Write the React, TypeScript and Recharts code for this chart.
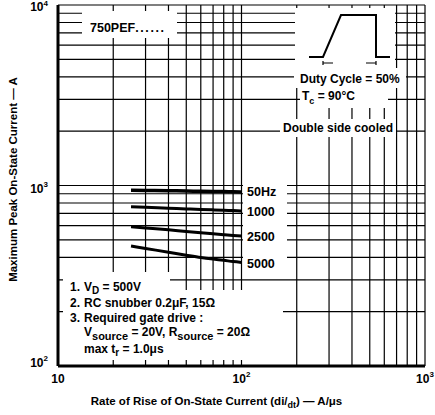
import React from 'react';
import { LineChart, Line, XAxis, YAxis, CartesianGrid } from 'recharts';

// ---- data ----
const rateX = [25, 30, 40, 50, 60, 70, 80, 90, 100]; // di/dt, A/us
const current50Hz = [940, 938, 935, 932, 929, 927, 925, 922, 920];
const current1000Hz = [763, 757, 749, 742, 737, 733, 729, 726, 723];
const current2500Hz = [591, 582, 568, 556, 547, 540, 534, 529, 525];
const current5000Hz = [462, 448, 427, 411, 399, 391, 385, 379, 375];

const xGridTicks = [10, 20, 30, 40, 50, 60, 70, 80, 90, 100, 200, 300, 400, 500, 600, 700, 800, 900, 1000];
const yGridTicks = [100, 200, 300, 400, 500, 600, 700, 800, 900, 1000, 2000, 3000, 4000, 5000, 6000, 7000, 8000, 9000, 10000];
const curveLabels = ['50Hz', '1000', '2500', '5000'];

const data = rateX.map((x, i) => ({
  x,
  f50: current50Hz[i],
  f1000: current1000Hz[i],
  f2500: current2500Hz[i],
  f5000: current5000Hz[i],
}));

const FONT = '"Liberation Sans", Arial, Helvetica, sans-serif';

const isDecade = (v: number) => Math.abs(Math.log10(v) - Math.round(Math.log10(v))) < 1e-9;

const XTick = (props: any) => {
  const { x, y, payload } = props;
  const v = payload.value;
  if (!isDecade(v)) return <g />;
  const exp = Math.round(Math.log10(v));
  return (
    <text x={x} y={y + 17} textAnchor="middle" fontFamily={FONT} fontWeight={700} fontSize={12} fill="#000">
      {exp === 1 ? (
        '10'
      ) : (
        <>
          <tspan>10</tspan>
          <tspan dy={-6} fontSize={8}>{exp}</tspan>
        </>
      )}
    </text>
  );
};

const YTick = (props: any) => {
  const { x, y, payload } = props;
  const v = payload.value;
  if (!isDecade(v)) return <g />;
  const exp = Math.round(Math.log10(v));
  const dy = exp === 3 ? 7 : exp === 4 ? 6 : 1;
  const sup = exp === 4 ? -5 : -6;
  return (
    <text x={x} y={y + dy} textAnchor="end" fontFamily={FONT} fontWeight={700} fontSize={12} fill="#000">
      <tspan>10</tspan>
      <tspan dy={sup} fontSize={8}>{exp}</tspan>
    </text>
  );
};

const XTitle = (props: any) => {
  const vb = props.viewBox || { x: 58, y: 366, width: 367, height: 49 };
  const cx = vb.x + vb.width / 2 - 25;
  const cy = vb.y + 39;
  return (
    <text x={cx} y={cy} textAnchor="middle" fontFamily={FONT} fontWeight={700} fontSize={11.5} fill="#000">
      <tspan>Rate of Rise of On-State Current (di/</tspan>
      <tspan dy={3} fontSize={9}>dt</tspan>
      <tspan dy={-3}>) — A/μs</tspan>
    </text>
  );
};

const YTitle = (props: any) => {
  const vb = props.viewBox || { x: 8, y: 5, width: 50, height: 361 };
  const cx = vb.x + 4.5;
  const cy = vb.y + vb.height / 2 - 6;
  return (
    <text
      x={cx}
      y={cy}
      transform={`rotate(-90, ${cx}, ${cy})`}
      textAnchor="middle"
      dominantBaseline="central"
      fontFamily={FONT}
      fontWeight={700}
      fontSize={11.5}
      fill="#000"
    >
      Maximum Peak On-State Current — A
    </text>
  );
};

const whiteBoxes = [
  [82, 11, 95, 27],
  [295, 8, 100, 60],
  [294, 68, 112, 20],
  [300, 88, 88, 20],
  [280, 119, 116, 18],
  [243, 181, 44, 91],
  [63, 272, 107, 20],
  [63, 290, 182, 18],
  [63, 308, 220, 52],
];

const txt = { fontFamily: FONT, fontWeight: 700, fontSize: 12, fill: '#000' } as any;

const Overlay = () => (
  <svg width={435} height={415} style={{ position: 'absolute', left: 0, top: 0, pointerEvents: 'none' }}>
    {whiteBoxes.map(([x, y, w, h], i) => (
      <rect key={i} x={x} y={y} width={w} height={h} fill="#fff" />
    ))}
    <text x={90} y={31.5} {...txt} fontSize={12.5}>
      750PEF<tspan letterSpacing={1.6}>......</tspan>
    </text>
    {/* pulse waveform inset */}
    <polyline points="309,57 323,57 341,15 376,15 376,57 390,57" fill="none" stroke="#000" strokeWidth={2} />
    <path d="M323,61 v4 M323,63 h10 M376,61 v4 M366,63 h10" stroke="#000" strokeWidth={1.2} fill="none" />
    <text x={300} y={82.5} {...txt}>Duty Cycle = 50%</text>
    <text x={302} y={100} {...txt}>
      T<tspan dy={4} fontSize={9}>c</tspan>
      <tspan dy={-4}> = 90°C</tspan>
    </text>
    <text x={283} y={131.5} {...txt}>Double side cooled</text>
    {curveLabels.map((l, i) => (
      <text key={l} x={247} y={[195.5, 215.5, 240.5, 268][i]} {...txt} fontSize={12.5}>
        {l}
      </text>
    ))}
    <text x={70} y={291} {...txt}>
      1.
    </text>
    <text x={84} y={291} {...txt}>
      V<tspan dy={3} fontSize={10}>D</tspan>
      <tspan dy={-3}> = 500V</tspan>
    </text>
    <text x={70} y={307} {...txt}>2.</text>
    <text x={84} y={307} {...txt}>RC snubber 0.2μF, 15Ω</text>
    <text x={70} y={322} {...txt}>3.</text>
    <text x={84} y={322} {...txt}>Required gate drive :</text>
    <text x={84} y={335.5} {...txt}>
      V<tspan dy={4} fontSize={11}>source</tspan>
      <tspan dy={-4}> = 20V, R</tspan>
      <tspan dy={4} fontSize={11}>source</tspan>
      <tspan dy={-4}> = 20Ω</tspan>
    </text>
    <text x={84} y={353} {...txt}>
      max t<tspan dy={3} fontSize={10}>r</tspan>
      <tspan dy={-3}> = 1.0μs</tspan>
    </text>
  </svg>
);

export default function App() {
  return (
    <div style={{ position: 'absolute', left: 0, top: 0, width: 435, height: 415, background: '#fff' }}>
      <LineChart width={435} height={415} data={data} margin={{ top: 5, right: 10, bottom: 0, left: 8 }}>
        <CartesianGrid stroke="#000" strokeWidth={1.2} />
        <XAxis
          dataKey="x"
          type="number"
          scale="log"
          domain={[10, 1000]}
          ticks={xGridTicks}
          interval={0}
          tick={<XTick />}
          tickLine={false}
          tickSize={0}
          tickMargin={0}
          axisLine={{ stroke: '#000', strokeWidth: 3 }}
          height={49}
          allowDataOverflow
          label={<XTitle />}
        />
        <YAxis
          type="number"
          scale="log"
          domain={[100, 10000]}
          ticks={yGridTicks}
          interval={0}
          tick={<YTick />}
          tickLine={false}
          tickSize={0}
          tickMargin={10}
          axisLine={{ stroke: '#000', strokeWidth: 3 }}
          width={50}
          allowDataOverflow
          label={<YTitle />}
        />
        <XAxis
          xAxisId="top"
          orientation="top"
          dataKey="x"
          type="number"
          scale="log"
          domain={[10, 1000]}
          height={0}
          tick={false}
          tickLine={false}
          axisLine={{ stroke: '#000', strokeWidth: 3 }}
          allowDataOverflow
        />
        <YAxis
          yAxisId="right"
          orientation="right"
          type="number"
          scale="log"
          domain={[100, 10000]}
          width={0}
          tick={false}
          tickLine={false}
          axisLine={{ stroke: '#000', strokeWidth: 3 }}
          allowDataOverflow
        />
        <Line dataKey="f50" type="monotone" stroke="#000" strokeWidth={3.5} dot={false} isAnimationActive={false} />
        <Line dataKey="f1000" type="monotone" stroke="#000" strokeWidth={3} dot={false} isAnimationActive={false} />
        <Line dataKey="f2500" type="monotone" stroke="#000" strokeWidth={3} dot={false} isAnimationActive={false} />
        <Line dataKey="f5000" type="monotone" stroke="#000" strokeWidth={3} dot={false} isAnimationActive={false} />
      </LineChart>
      <Overlay />
    </div>
  );
}
